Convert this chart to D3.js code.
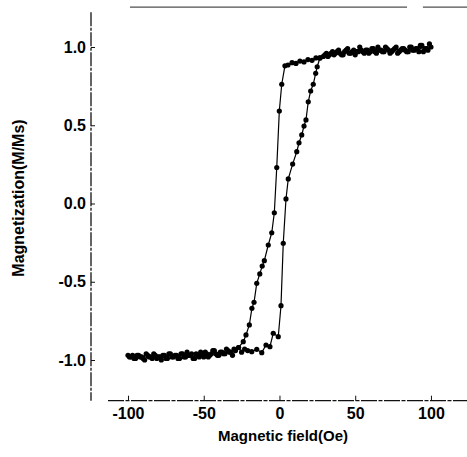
<!DOCTYPE html>
<html>
<head>
<meta charset="utf-8">
<script src="https://cdn.jsdelivr.net/npm/d3@7"></script>
<style>
  body { margin: 0; background: #fff; }
  svg { display: block; }
</style>
</head>
<body>
<svg id="chart" width="467" height="457"></svg>
<script>
// descending branch (field swept from +100 down to -100)
var downField = [100, 98, 96, 94, 92, 90, 88, 86, 84, 82, 80, 78, 76, 74, 72, 70, 68, 66, 64, 62,
	60, 58, 56, 54, 52, 50, 48, 46, 44, 42, 40, 38, 36, 34, 32, 30,
	26.7, 24.1, 21.5, 18.8, 16.2, 13.5, 10.9, 8.3, 5.6, 3.6,
	1.5, -0.1, -1.8, -3.4, -5.1, -7.4, -10.0, -11.4, -13.0, -15.0, -16.8, -18.2, -19.9, -22.1, -23.9, -27.0,
	-30, -32, -34, -36, -38, -40, -42, -44, -46, -48, -50, -52, -54, -56, -58, -60, -62, -64,
	-66, -68, -70, -72, -74, -76, -78, -80, -82, -84, -86, -88, -90, -92, -94, -96, -98, -100];
var downMoment = [1.00, 0.98, 0.99, 1.01, 0.97, 0.99, 0.98, 1.00, 0.97, 0.99, 0.98, 0.96, 0.99, 0.97, 0.98, 1.00, 0.97, 0.98,
	0.96, 0.99, 0.97, 0.98, 0.96, 0.98, 0.97, 0.95, 0.97, 0.96, 0.98, 0.95, 0.96, 0.97, 0.95, 0.96, 0.94, 0.95,
	0.93, 0.93, 0.915, 0.92, 0.905, 0.91, 0.895, 0.90, 0.885, 0.88,
	0.762, 0.591, 0.23, -0.059, -0.187, -0.265, -0.365, -0.40, -0.45, -0.51, -0.631, -0.67, -0.776, -0.84, -0.883, -0.92,
	-0.93, -0.95, -0.94, -0.96, -0.95, -0.97, -0.96, -0.94, -0.97, -0.96, -0.98, -0.95, -0.97, -0.99, -0.96, -0.97, -0.98, -0.96,
	-0.99, -0.97, -0.98, -0.96, -0.99, -0.97, -1.00, -0.98, -0.97, -0.99, -0.98, -0.96, -0.99, -0.98, -0.97, -0.99, -0.98, -0.97];

// ascending branch (field swept from -100 up to +100)
var upField = [-99, -97, -95, -93, -91, -89, -87, -85, -83, -81, -79, -77, -75, -73, -71, -69, -67, -65, -63, -61,
	-59, -57, -55, -53, -51, -49, -47, -45, -43, -41, -39, -37, -35, -33, -31, -29, -27, -25, -23, -21,
	-18.3, -15.0, -11.7, -8.9, -6.3, -4.1, -0.8, 1.0, 2.5, 4.3, 5.8, 8.7, 11.4, 12.9, 14.7, 16.2, 17.5, 19.0, 20.6, 22.3, 23.9, 24.9, 26.7,
	29, 31, 33, 35, 37, 39, 41, 43, 45, 47, 49, 51, 53, 55, 57, 59, 61, 63,
	65, 67, 69, 71, 73, 75, 77, 79, 81, 83, 85, 87, 89, 91, 93, 95, 97, 99];
var upMoment = [-0.98, -0.97, -0.99, -0.97, -0.98, -1.00, -0.97, -0.98, -0.96, -0.99, -0.98, -0.97, -0.99, -0.96, -0.98, -0.97, -0.99, -0.96, -0.98, -0.95,
	-0.97, -0.99, -0.96, -0.98, -0.97, -0.95, -0.98, -0.96, -0.94, -0.97, -0.95, -0.96, -0.93, -0.95, -0.97, -0.94, -0.92, -0.95, -0.93, -0.94,
	-0.947, -0.932, -0.953, -0.904, -0.915, -0.829, -0.851, -0.653, -0.254, 0.029, 0.157, 0.252, 0.331, 0.388, 0.438, 0.495, 0.534, 0.65, 0.719, 0.762, 0.832, 0.874, 0.93,
	0.94, 0.96, 0.95, 0.97, 0.96, 0.98, 0.95, 0.97, 0.99, 0.96, 0.98, 0.97, 1.00, 0.97, 0.98, 0.96, 0.99, 0.97,
	1.00, 0.98, 0.97, 0.99, 0.96, 0.98, 1.00, 0.97, 0.99, 0.98, 0.97, 1.00, 0.98, 0.99, 1.01, 0.97, 0.99, 1.02];

var xTicks = [-100, -50, 0, 50, 100];
var xTickLabels = ["-100", "-50", "0", "50", "100"];
var yTicks = [-1.0, -0.5, 0.0, 0.5, 1.0];
var yTickLabels = ["-1.0", "-0.5", "0.0", "0.5", "1.0"];

var xTitle = "Magnetic field(Oe)";
var yTitle = "Magnetization(M/Ms)";

var svg = d3.select("#chart"),
	font = "'Liberation Sans', Arial, sans-serif",
	yAxisX = 91;

var x = d3.scaleLinear()
	.domain([-113.2, 123.8])
	.range([108, 467]);

var y = d3.scaleLinear()
	.domain([-1.26, 1.255])
	.range([400.7, 7.1]);

// frame lines
svg.append("line")
	.attr("x1", yAxisX).attr("x2", yAxisX)
	.attr("y1", y(1.222)).attr("y2", y(-1.26))
	.attr("stroke", "#111").attr("stroke-width", 1.3)
	.attr("stroke-dasharray", "14,1.5,3,1.5");
svg.append("line")
	.attr("x1", x(-113.2)).attr("x2", x(123.8))
	.attr("y1", y(-1.26)).attr("y2", y(-1.26))
	.attr("stroke", "#111").attr("stroke-width", 1.2)
	.attr("stroke-dasharray", "16,1.5,4,1.5");
svg.append("line")
	.attr("x1", x(-98.7)).attr("x2", x(84.2))
	.attr("y1", y(1.255)).attr("y2", y(1.255))
	.attr("stroke", "#222").attr("stroke-width", 1);
svg.append("line")
	.attr("x1", x(94.7)).attr("x2", x(123.8))
	.attr("y1", y(1.255)).attr("y2", y(1.255))
	.attr("stroke", "#222").attr("stroke-width", 1);

// axes
var xAxis = d3.axisBottom(x)
	.tickValues(xTicks)
	.tickFormat(function(d, i) { return xTickLabels[i]; })
	.tickSizeInner(-5)
	.tickSizeOuter(0)
	.tickPadding(7);

var yAxis = d3.axisLeft(y)
	.tickValues(yTicks)
	.tickFormat(function(d, i) { return yTickLabels[i]; })
	.tickSizeInner(-4)
	.tickSizeOuter(0)
	.tickPadding(5);

var gX = svg.append("g")
	.attr("transform", "translate(0," + y(-1.26) + ")")
	.call(xAxis);
var gY = svg.append("g")
	.attr("transform", "translate(" + yAxisX + ",0)")
	.call(yAxis);

[gX, gY].forEach(function(g) {
	g.select(".domain").remove();
	g.selectAll("line").attr("stroke", "#111");
	g.selectAll("text")
		.attr("fill", "#000")
		.style("font-family", font)
		.style("font-weight", "bold")
		.style("font-size", "16px");
});

// branches
var line = d3.line()
	.x(function(d) { return x(d[0]); })
	.y(function(d) { return y(d[1]); });

var branches = [
	d3.zip(downField, downMoment),
	d3.zip(upField, upMoment)
];

var gData = svg.append("g");

gData.selectAll("path.branch")
	.data(branches)
	.enter().append("path")
	.attr("class", "branch")
	.attr("d", line)
	.attr("fill", "none")
	.attr("stroke", "#000")
	.attr("stroke-width", 1.2);

gData.selectAll("g.pts")
	.data(branches)
	.enter().append("g")
	.attr("class", "pts")
	.selectAll("circle")
	.data(function(d) { return d; })
	.enter().append("circle")
	.attr("cx", function(d) { return x(d[0]); })
	.attr("cy", function(d) { return y(d[1]); })
	.attr("r", 2.6)
	.attr("fill", "#000");

// titles
svg.append("text")
	.attr("x", 283)
	.attr("y", 441)
	.attr("text-anchor", "middle")
	.style("font-family", font)
	.style("font-weight", "bold")
	.style("font-size", "15px")
	.text(xTitle);

svg.append("text")
	.attr("transform", "translate(24,198) rotate(-90)")
	.attr("text-anchor", "middle")
	.style("font-family", font)
	.style("font-weight", "bold")
	.style("font-size", "16px")
	.text(yTitle);
</script>
</body>
</html>
